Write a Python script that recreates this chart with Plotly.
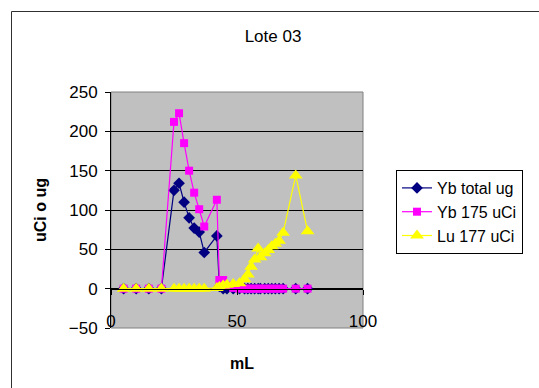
import plotly.graph_objects as go

# Elution volume (mL) shared by the three measured series
ml = [5, 10, 15, 20, 25, 27, 29, 31, 33, 35, 37, 42, 43, 44.5, 46, 48.5, 51,
      53, 54.3, 55.6, 57, 58.4, 59.3, 61, 62.4, 63.8, 65.2, 66.7, 68.3, 73.3, 78]

yb_total_ug = [0, 0, 0, 0, 125, 134, 110, 90, 77, 72, 46, 67, 3, 0, 0, 0, 0,
               0, 0, 0, 0, 0, 0, 0, 0, 0, 0, 0, 0, 0, 0]

yb175_uci = [0, 0, 0, 0, 212, 223, 185, 150, 122, 101, 79, 113, 11, 11, 4, 1, 0,
             0, 0, 0, 0, 0, 0, 0, 0, 0, 0, 0, 0, 0, 0]

lu177_uci = [0, 0, 0, 0, 0, 0, 0, 0, 0, 0, 0, 1, 2, 4, 5, 6, 7,
             12, 18, 28, 37, 51, 40, 45, 49, 54, 57, 61, 71, 144, 73]

x_ticks = [0, 50, 100]
y_ticks = [-50, 0, 50, 100, 150, 200, 250]

FONT = "Liberation Sans, Arial, sans-serif"
W, H = 539, 388
# plot-area edges in pixels
L, R, T, B = 111, 363, 92, 328


def px_x(p):
    return (p - L) / (R - L)


def px_y(p):
    return (B - p) / (B - T)


fig = go.Figure()

fig.add_trace(go.Scatter(
    x=ml, y=yb_total_ug, name="Yb total ug", mode="lines+markers",
    line=dict(color="#000080", width=1.2),
    marker=dict(symbol="diamond", size=9, color="#000080"),
    legendgroup="a"))
fig.add_trace(go.Scatter(
    x=ml, y=yb175_uci, name="Yb 175 uCi", mode="lines+markers",
    line=dict(color="#FF00FF", width=1.2),
    marker=dict(symbol="square", size=8, color="#FF00FF"),
    legendgroup="b"))
fig.add_trace(go.Scatter(
    x=ml, y=lu177_uci, name="Lu 177 uCi", mode="lines+markers",
    line=dict(color="#FFFF00", width=1.2),
    marker=dict(symbol="triangle-up", size=12, color="#FFFF00"),
    legendgroup="c"))

fig.update_layout(
    width=W, height=H,
    margin=dict(l=L, r=W - R, t=T, b=H - B),
    paper_bgcolor="white",
    plot_bgcolor="#C0C0C0",
    font=dict(family=FONT, size=16, color="black"),
    title=dict(text="Lote 03", x=(273) / W, xanchor="center",
               y=1 - 36 / H, yanchor="middle", yref="container",
               font=dict(size=17, color="black")),
    showlegend=True,
    legend=dict(x=px_x(396), y=px_y(170), xanchor="left", yanchor="top",
                bgcolor="white", bordercolor="black", borderwidth=1,
                font=dict(size=16), tracegroupgap=7, itemwidth=30,
                traceorder="normal"),
    xaxis=dict(range=[0, 100], tickvals=x_ticks, showgrid=False,
               zeroline=False, showline=True, linecolor="black", linewidth=1,
               anchor="free", position=50 / 300,
               ticks="outside", ticklen=5, tickcolor="black",
               ticklabelstandoff=12, tickfont=dict(size=17)),
    yaxis=dict(range=[-50, 250], tickvals=y_ticks, showgrid=True,
               gridcolor="black", gridwidth=1, zeroline=False,
               showline=True, linecolor="black", linewidth=1,
               ticks="outside", ticklen=5, tickcolor="black",
               tickfont=dict(size=17), ticklabelstandoff=4),
)

# plot-area outline on the right and bottom
fig.add_shape(type="rect", xref="paper", yref="paper", x0=0, x1=1, y0=0, y1=1,
              line=dict(color="#808080", width=1), layer="below")

# chart-area border
fig.add_shape(type="rect", xref="paper", yref="paper",
              x0=px_x(11.5), x1=px_x(560), y0=px_y(11.5), y1=px_y(400),
              line=dict(color="#303030", width=1))

fig.add_annotation(text="<b>mL</b>", xref="paper", yref="paper",
                   x=px_x(242), y=px_y(363), showarrow=False,
                   font=dict(size=16), xanchor="center", yanchor="middle")
fig.add_annotation(text="<b>uCi o ug</b>", xref="paper", yref="paper",
                   x=px_x(40), y=px_y(210), showarrow=False, textangle=-90,
                   font=dict(size=16), xanchor="center", yanchor="middle")

fig.write_html("out.html")
